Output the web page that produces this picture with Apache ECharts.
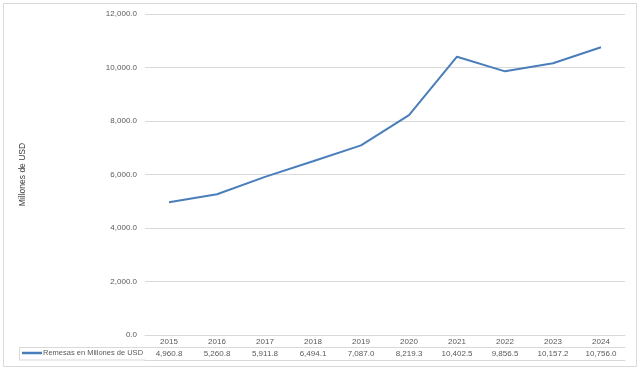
<!DOCTYPE html>
<html><head><meta charset="utf-8">
<script src="https://cdn.jsdelivr.net/npm/echarts@6/dist/echarts.min.js"></script>
<style>html,body{margin:0;padding:0;background:#fff}#c{width:641px;height:371px}</style>
</head><body><div id="c"></div>
<script>
const years = ['2015','2016','2017','2018','2019','2020','2021','2022','2023','2024'];
const remesas = [4960.8, 5260.8, 5911.8, 6494.1, 7087.0, 8219.3, 10402.5, 9856.5, 10157.2, 10756.0];
const seriesName = 'Remesas en Millones de USD';
const yTitle = 'Millones de USD';
const fmt = v => Number(v).toLocaleString('en-US',{minimumFractionDigits:1,maximumFractionDigits:1});
const FONT = 'Liberation Sans';
const TXT = '#595959';
const BORDER = '#d9d9d9';
const chart = echarts.init(document.getElementById('c'));
chart.setOption({
  animation:false,
  textStyle:{fontFamily:FONT},
  grid:{left:145,right:16,top:14,bottom:36,containLabel:false},
  legend:{data:[seriesName],left:22,top:349,itemWidth:20,itemHeight:2.5,icon:'rect',itemGap:0,
    textStyle:{fontSize:7.5,color:TXT,fontFamily:FONT,padding:[0,0,0,-4]},padding:0},
  xAxis:[
    {type:'category',data:years,position:'bottom',boundaryGap:true,
     axisLine:{lineStyle:{color:BORDER}},
     axisTick:{length:25,lineStyle:{color:BORDER},alignWithLabel:false},
     axisLabel:{fontSize:8,color:TXT,margin:3}},
    {type:'category',data:remesas.map(fmt),position:'bottom',offset:12.5,boundaryGap:true,
     axisLine:{lineStyle:{color:BORDER}},axisTick:{show:false},
     axisLabel:{fontSize:8,color:TXT,margin:2.5}},
    {type:'category',data:years,position:'bottom',offset:25,
     axisLine:{lineStyle:{color:BORDER}},axisTick:{show:false},axisLabel:{show:false}}
  ],
  yAxis:{type:'value',min:0,max:12000,interval:2000,
    name:yTitle,nameLocation:'middle',nameGap:118,nameRotate:90,
    nameTextStyle:{fontSize:8.5,color:'#404040'},
    axisLine:{show:false},axisTick:{show:false},
    axisLabel:{fontSize:8,color:TXT,margin:8,formatter:v=>fmt(v)},
    splitLine:{lineStyle:{color:BORDER}}},
  graphic:[
    {type:'rect',shape:{x:3.5,y:3.5,width:633,height:363},style:{fill:null,stroke:BORDER,lineWidth:1}},
    {type:'line',shape:{x1:19,y1:347.5,x2:145,y2:347.5},style:{stroke:BORDER,lineWidth:1}},
    {type:'line',shape:{x1:19,y1:360,x2:145,y2:360},style:{stroke:BORDER,lineWidth:1}},
    {type:'line',shape:{x1:19.5,y1:347.5,x2:19.5,y2:360},style:{stroke:BORDER,lineWidth:1}}
  ],
  series:[{name:seriesName,type:'line',data:remesas,xAxisIndex:0,showSymbol:false,symbol:'none',
    lineStyle:{color:'#4a7ebb',width:2},itemStyle:{color:'#4a7ebb'}}]
});
</script></body></html>
